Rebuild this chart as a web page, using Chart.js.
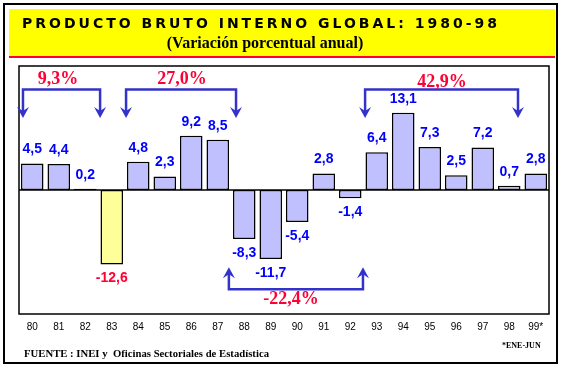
<!DOCTYPE html>
<html>
<head>
<meta charset="utf-8">
<script src="https://cdn.jsdelivr.net/npm/chart.js@4"></script>
<style>
  html, body { margin: 0; padding: 0; background: #fff; }
  #grafico { display: block; }
</style>
</head>
<body>
<canvas id="grafico" width="562" height="367"></canvas>
<script>
// datos: variacion porcentual anual del PBI
var anios = ["80", "81", "82", "83", "84", "85", "86", "87", "88", "89",
             "90", "91", "92", "93", "94", "95", "96", "97", "98", "99*"];
var variacion = [4.5, 4.4, 0.2, -12.6, 4.8, 2.3, 9.2, 8.5, -8.3, -11.7,
                 -5.4, 2.8, -1.4, 6.4, 13.1, 7.3, 2.5, 7.2, 0.7, 2.8];

// acumulados por periodo (desde / hasta en indices de categoria)
var periodo_texto = ["9,3%", "27,0%", "42,9%", "-22,4%"];
var periodo_desde = [-0.35, 3.54, 12.56, 7.42];
var periodo_hasta = [2.56, 7.69, 18.33, 12.48];
var periodo_lado = ["arriba", "arriba", "arriba", "abajo"];

var color_barra = variacion.map(function (v, i) { return i === 3 ? "#ffff99" : "#c0c0ff"; });
var color_valor = variacion.map(function (v, i) { return i === 3 ? "#ff0033" : "#0000ff"; });

function fmt(v) {
    return v.toFixed(1).replace(".", ",");
}

function flecha(ctx, x, y, dir) {
    // punta de flecha con muesca, dir = 1 hacia abajo, -1 hacia arriba
    ctx.beginPath();
    ctx.moveTo(x, y);
    ctx.lineTo(x - 6, y - 11 * dir);
    ctx.lineTo(x, y - 7 * dir);
    ctx.lineTo(x + 6, y - 11 * dir);
    ctx.closePath();
    ctx.fill();
}

var marco = {
    id: "marco",
    beforeDraw: function (chart) {
        var ctx = chart.ctx;
        ctx.save();
        ctx.fillStyle = "#fff";
        ctx.fillRect(0, 0, 562, 367);
        // borde exterior
        ctx.strokeStyle = "#000";
        ctx.lineWidth = 2;
        ctx.strokeRect(4, 4, 553, 359);
        // banda del titulo
        ctx.fillStyle = "#ffff00";
        ctx.fillRect(9, 9, 546, 47);
        ctx.fillStyle = "#ff0033";
        ctx.fillRect(9, 56, 546, 2);

        ctx.fillStyle = "#000";
        ctx.textBaseline = "middle";
        ctx.textAlign = "left";
        ctx.font = "bold 14px 'DejaVu Sans', Arial, sans-serif";
        ctx.letterSpacing = "3px";
        ctx.fillText("PRODUCTO BRUTO INTERNO GLOBAL: 1980-98", 22, 24, 484);
        ctx.letterSpacing = "0px";
        ctx.textAlign = "center";
        ctx.font = "bold 16px 'Liberation Serif', 'Times New Roman', serif";
        ctx.fillText("(Variación porcentual anual)", 265, 44);
        ctx.restore();
    },
    beforeDatasetsDraw: function (chart) {
        var ctx = chart.ctx;
        var a = chart.chartArea;
        var y0 = chart.scales.y.getPixelForValue(0);
        ctx.save();
        ctx.strokeStyle = "#000";
        ctx.lineWidth = 1.5;
        ctx.strokeRect(a.left, a.top, a.right - a.left, a.bottom - a.top);
        ctx.beginPath();
        ctx.moveTo(a.left, y0);
        ctx.lineTo(a.right, y0);
        ctx.stroke();
        ctx.restore();
    },
    afterDatasetsDraw: function (chart) {
        var ctx = chart.ctx;
        var xs = chart.scales.x;
        var ys = chart.scales.y;
        var barras = chart.getDatasetMeta(0).data;
        ctx.save();

        // valores sobre / bajo las barras
        ctx.font = "bold 14px 'Liberation Sans', Arial, sans-serif";
        ctx.textAlign = "center";
        ctx.textBaseline = "middle";
        barras.forEach(function (b, i) {
            var v = variacion[i];
            ctx.fillStyle = color_valor[i];
            ctx.fillText(fmt(v), b.x, v >= 0 ? b.y - 14 : b.y + 14);
        });

        // llaves de periodos
        ctx.strokeStyle = "#3333cc";
        ctx.fillStyle = "#3333cc";
        ctx.lineWidth = 2.5;
        periodo_texto.forEach(function (t, i) {
            var x1 = xs.getPixelForValue(periodo_desde[i]);
            var x2 = xs.getPixelForValue(periodo_hasta[i]);
            var arriba = periodo_lado[i] === "arriba";
            var yl = ys.getPixelForValue(arriba ? 17 : -16.8);
            var yp = ys.getPixelForValue(arriba ? 12.2 : -13.1);
            var dir = arriba ? 1 : -1;
            ctx.beginPath();
            ctx.moveTo(x1, yp - 6 * dir);
            ctx.lineTo(x1, yl);
            ctx.lineTo(x2, yl);
            ctx.lineTo(x2, yp - 6 * dir);
            ctx.stroke();
            flecha(ctx, x1, yp, dir);
            flecha(ctx, x2, yp, dir);
        });

        ctx.fillStyle = "#ff0033";
        ctx.font = "bold 18px 'Liberation Serif', 'Times New Roman', serif";
        ctx.fillText(periodo_texto[0], 58, 79);
        ctx.fillText(periodo_texto[1], 182, 79);
        ctx.fillText(periodo_texto[2], 442, 82);
        ctx.fillText(periodo_texto[3], 291, 299);

        // fuente
        ctx.fillStyle = "#000";
        ctx.textAlign = "left";
        ctx.font = "bold 11px 'Liberation Serif', 'Times New Roman', serif";
        ctx.fillText("FUENTE : INEI y  Oficinas Sectoriales de Estadística", 24, 354, 245);
        ctx.font = "bold 8px 'Liberation Serif', 'Times New Roman', serif";
        ctx.fillText("*ENE-JUN", 502, 346, 40);
        ctx.restore();
    }
};

var ctx_pbi = document.getElementById("grafico");
var chart_pbi = new Chart(ctx_pbi, {
    type: "bar",
    data: {
        labels: anios,
        datasets: [
            {
                label: "PBI",
                backgroundColor: color_barra,
                borderColor: "#000",
                borderWidth: 1.5,
                borderSkipped: false,
                categoryPercentage: 1,
                barPercentage: 0.85,
                data: variacion,
            },
        ],
    },
    options: {
        responsive: false,
        animation: false,
        layout: {
            padding: { top: 66, left: 19, right: 13, bottom: 27 },
        },
        plugins: {
            legend: { display: false },
            tooltip: { enabled: false },
        },
        scales: {
            x: {
                grid: { display: false, drawTicks: false },
                border: { display: false },
                ticks: {
                    color: "#000",
                    padding: 7,
                    autoSkip: false,
                    maxRotation: 0,
                    font: { family: "'Liberation Sans', Arial, sans-serif", size: 10 },
                },
            },
            y: {
                display: false,
                min: -21,
                max: 21,
            },
        },
    },
    plugins: [marco],
});
</script>
</body>
</html>
